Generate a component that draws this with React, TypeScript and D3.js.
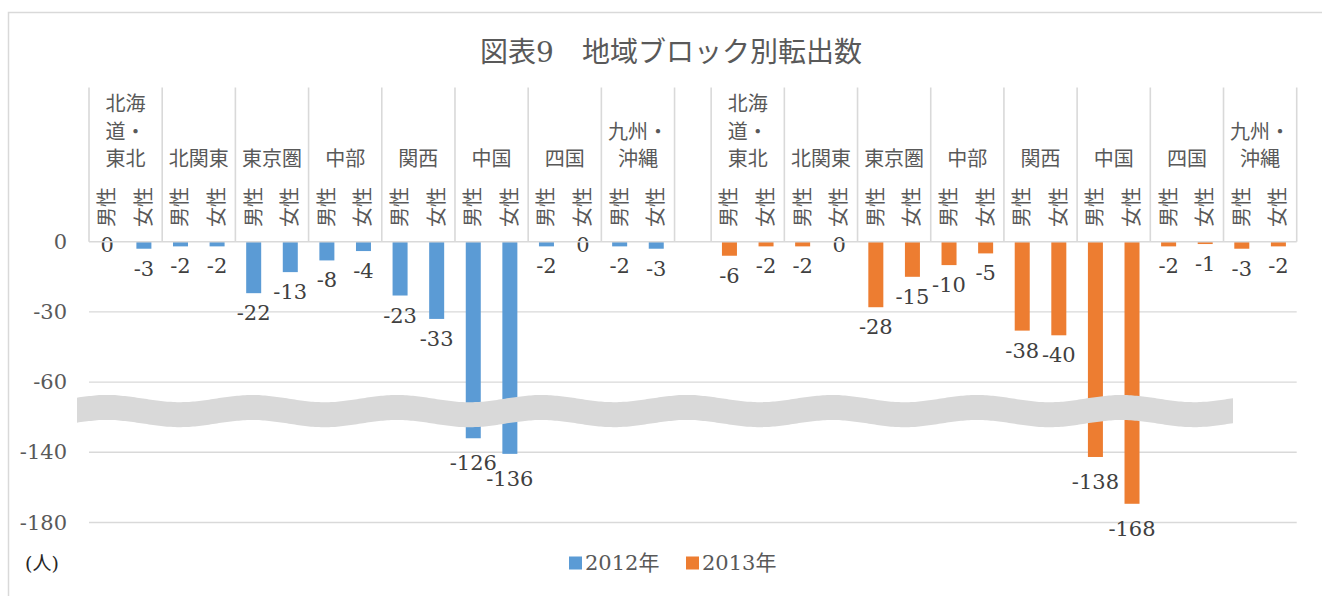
import React from "react";
import * as d3 from "d3";

const W = 1322;
const H = 596;

const title = "図表9\u3000地域ブロック別転出数";
const years = ["2012年", "2013年"];
const regionLines = [
  ["北海", "道・", "東北"],
  ["北関東"],
  ["東京圏"],
  ["中部"],
  ["関西"],
  ["中国"],
  ["四国"],
  ["九州・", "沖縄"],
];
const genders = ["男性", "女性"];
const values2012 = [0, -3, -2, -2, -22, -13, -8, -4, -23, -33, -126, -136, -2, 0, -2, -3];
const values2013 = [-6, -2, -2, 0, -28, -15, -10, -5, -38, -40, -138, -168, -2, -1, -3, -2];
const yTickValues = [0, -30, -60, -90, -120];
const yTickLabels = ["0", "-30", "-60", "-140", "-180"];
const colors = ["#5b9bd5", "#ed7d31"];
const unitLabel = "(人)";

// broken-axis: values beyond the break are drawn compressed (as in the original)
const breakThreshold = -60;
const breakFactor = 2 / 3;
const plotValue = (v: number) => (v < breakThreshold ? v * breakFactor : v);

const FONT = "'DejaVu Serif', 'Noto Sans CJK JP', serif";
const TEXT = "#595959";
const LABEL = "#404040";
const GRID = "#d9d9d9";

type Bar = { key: string; year: number; region: number; gender: number; value: number };

const seriesValues = [values2012, values2013];
const bars: Bar[] = [];
const domain: string[] = [];
years.forEach((yr, yi) => {
  if (yi > 0) domain.push("gap");
  regionLines.forEach((r, ri) => {
    genders.forEach((g, gi) => {
      const key = `${yr}|${ri}|${g}`;
      domain.push(key);
      bars.push({ key, year: yi, region: ri, gender: gi, value: seriesValues[yi][ri * 2 + gi] });
    });
  });
});

export default function App() {
  const x = d3.scaleBand<string>().domain(domain).range([89, 1296.7]).padding(0);
  const bw = x.bandwidth();
  const barW = bw * 0.41;
  const y = d3.scaleLinear().domain([0, -120]).range([241.7, 522.5]);
  const y0 = y(0);
  const headerTop = 87.5;

  // region boundaries
  const boundaries: number[] = [];
  years.forEach((yr) => {
    regionLines.forEach((r, ri) => {
      boundaries.push(x(`${yr}|${ri}|${genders[0]}`)!);
    });
    boundaries.push(x(`${yr}|${regionLines.length - 1}|${genders[1]}`)! + bw);
  });

  // wavy break band
  const waveX0 = 77;
  const waveX1 = 1235;
  const waveMid = y(-60) + 29;
  const amp = 3.6;
  const wl = 145;
  const thick = 25;
  const pts = d3.range(waveX0, waveX1 + 0.1, 4).map((px) => {
    const c = waveMid - amp * Math.cos((2 * Math.PI * (px - 107)) / wl);
    return { px, c };
  });
  const area = d3
    .area<{ px: number; c: number }>()
    .x((d) => d.px)
    .y0((d) => d.c - thick / 2)
    .y1((d) => d.c + thick / 2)
    .curve(d3.curveMonotoneX);

  const legendY = 563;

  return (
    <svg
      width={W}
      height={H}
      style={{ position: "absolute", left: 0, top: 0, background: "#fff" }}
      fontFamily={FONT}
    >
      <rect x={8.5} y={12.5} width={1330} height={600} fill="#fff" stroke={GRID} strokeWidth={1.5} />
      <text x={671} y={52} textAnchor="middle" dominantBaseline="central" fontSize={28} fill={TEXT}>
        {title}
      </text>

      {/* gridlines */}
      {yTickValues.map((t, i) =>
        i === 0 ? null : (
          <line key={t} x1={89} x2={1296.7} y1={y(t)} y2={y(t)} stroke={GRID} strokeWidth={1.4} />
        )
      )}
      {yTickValues.map((t, i) => (
        <text
          key={"yl" + t}
          x={67}
          y={y(t)}
          textAnchor="end"
          dominantBaseline="central"
          fontSize={21}
          fill={TEXT}
        >
          {yTickLabels[i]}
        </text>
      ))}

      {/* bars */}
      {bars.map((b) => {
        const v = plotValue(b.value);
        const yy = y(Math.min(0, v));
        return (
          <rect
            key={b.key}
            x={x(b.key)! + (bw - barW) / 2}
            y={y(0)}
            width={barW}
            height={Math.max(0, yy - y0)}
            fill={colors[b.year]}
          />
        );
      })}

      {/* break band */}
      <path d={area(pts)!} fill={GRID} />

      {/* data labels */}
      {bars.map((b) => {
        const v = plotValue(b.value);
        const off = b.value < breakThreshold ? 25 : 20;
        const ly = b.value === 0 ? y0 + 3 : y(v) + off;
        return (
          <text
            key={"dl" + b.key}
            x={x(b.key)! + bw / 2}
            y={ly}
            textAnchor="middle"
            dominantBaseline="central"
            fontSize={21}
            fill={LABEL}
          >
            {String(b.value)}
          </text>
        );
      })}

      {/* category header */}
      <line x1={89} x2={1296.7} y1={y0} y2={y0} stroke={GRID} strokeWidth={1.6} />
      {boundaries.map((bx, i) => (
        <line key={"b" + i} x1={bx} x2={bx} y1={headerTop} y2={y0} stroke={GRID} strokeWidth={1.6} />
      ))}
      {years.map((yr, yi) =>
        regionLines.map((lines, ri) => {
          const cx = x(`${yr}|${ri}|${genders[0]}`)! + bw;
          return lines.map((ln, li) => (
            <text
              key={`rl${yi}-${ri}-${li}`}
              x={cx}
              y={159 - (lines.length - 1 - li) * 27.5}
              textAnchor="middle"
              dominantBaseline="central"
              fontSize={20}
              fill={TEXT}
            >
              {ln}
            </text>
          ));
        })
      )}
      {bars.map((b) => {
        const cx = x(b.key)! + bw / 2;
        return (
          <text
            key={"g" + b.key}
            transform={`translate(${cx},207) rotate(-90)`}
            textAnchor="middle"
            dominantBaseline="central"
            fontSize={20}
            fill={TEXT}
          >
            {genders[b.gender]}
          </text>
        );
      })}

      {/* unit */}
      <text x={25} y={legendY} dominantBaseline="central" fontSize={19} fill="#262626">
        {unitLabel}
      </text>

      {/* legend */}
      {years.map((yr, yi) => {
        const lx = 569 + yi * 117;
        return (
          <g key={"lg" + yr}>
            <rect x={lx} y={legendY - 6.5} width={13} height={13} fill={colors[yi]} />
            <text x={lx + 16} y={legendY} dominantBaseline="central" fontSize={21} fill={TEXT}>
              {yr}
            </text>
          </g>
        );
      })}
    </svg>
  );
}
